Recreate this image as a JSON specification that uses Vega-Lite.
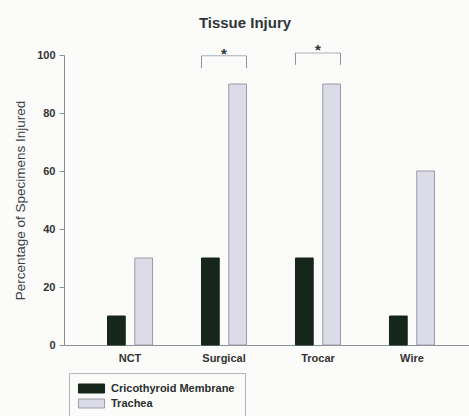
{
  "$schema": "https://vega.github.io/schema/vega-lite/v6.json",
  "width": 414,
  "height": 290,
  "autosize": "none",
  "padding": {"left": 64, "top": 55, "right": 0, "bottom": 71},
  "background": "#fbfcfa",
  "title": {"text": "Tissue Injury", "fontSize": 15, "font": "Liberation Sans", "fontWeight": "bold", "color": "#2e3538", "dx": -26, "offset": 12},
  "config": {"view": {"stroke": null}, "font": "Liberation Sans"},
  "datasets": {
    "bars": [
      {"group": "NCT", "series": "Cricothyroid Membrane", "value": 10},
      {"group": "NCT", "series": "Trachea", "value": 30},
      {"group": "Surgical", "series": "Cricothyroid Membrane", "value": 30},
      {"group": "Surgical", "series": "Trachea", "value": 90},
      {"group": "Trocar", "series": "Cricothyroid Membrane", "value": 30},
      {"group": "Trocar", "series": "Trachea", "value": 90},
      {"group": "Wire", "series": "Cricothyroid Membrane", "value": 10},
      {"group": "Wire", "series": "Trachea", "value": 60}
    ],
    "sig": [
      {"group": "Surgical", "top": 99.7, "bottom": 95.5, "star": 101.4},
      {"group": "Trocar", "top": 100.7, "bottom": 96.6, "star": 102.8}
    ]
  },
  "layer": [
    {
      "data": {"name": "bars"},
      "mark": {"type": "bar", "strokeWidth": 1},
      "encoding": {
        "x": {
          "field": "group", "type": "nominal",
          "scale": {"paddingInner": 0.521, "paddingOuter": 0.463},
          "axis": {"title": null, "ticks": false, "labelAngle": 0, "labelFont": "Liberation Sans", "labelFontWeight": "bold", "labelFontSize": 11, "labelColor": "#333", "labelPadding": 7, "domainColor": "#8a9098"}
        },
        "xOffset": {"field": "series", "type": "nominal", "scale": {"paddingInner": 0.35}},
        "y": {
          "field": "value", "type": "quantitative",
          "title": "Percentage of Specimens Injured",
          "scale": {"domain": [0, 100], "nice": false},
          "axis": {"titleFont": "Liberation Sans", "titleFontWeight": "normal", "titleFontSize": 13.5, "titleColor": "#3a3f42", "titlePadding": 9, "values": [0, 20, 40, 60, 80, 100], "grid": false, "tickSize": 5, "tickColor": "#8a9098", "domainColor": "#8a9098", "labelFont": "Liberation Sans", "labelFontWeight": "bold", "labelFontSize": 11, "labelColor": "#333", "labelPadding": 4}
        },
        "color": {
          "field": "series", "type": "nominal",
          "scale": {"range": ["#17261b", "#dcdce9"]},
          "legend": {"title": null, "orient": "none", "legendX": 5, "legendY": 318, "strokeColor": "#b4b6be", "padding": 10, "labelFont": "Liberation Sans", "labelFontWeight": "bold", "labelFontSize": 11, "labelColor": "#2a2f2c", "symbolType": "M-2.9,-1H2.9V1H-2.9Z", "symbolSize": 81, "symbolOffset": 7, "labelOffset": 14, "rowPadding": 2, "symbolStrokeWidth": 1}
        },
        "stroke": {
          "field": "series", "type": "nominal",
          "scale": {"range": ["#17261b", "#9a9aa8"]},
          "legend": null
        }
      }
    },
    {
      "data": {"name": "sig"},
      "mark": {"type": "rule", "color": "#8a909c", "strokeWidth": 1},
      "encoding": {
        "x": {"field": "group", "type": "nominal", "bandPosition": 0},
        "y": {"field": "bottom", "type": "quantitative", "title": "Percentage of Specimens Injured"},
        "y2": {"field": "top"}
      }
    },
    {
      "data": {"name": "sig"},
      "mark": {"type": "rule", "color": "#8a909c", "strokeWidth": 1},
      "encoding": {
        "x": {"field": "group", "type": "nominal", "bandPosition": 1},
        "y": {"field": "bottom", "type": "quantitative", "title": "Percentage of Specimens Injured"},
        "y2": {"field": "top"}
      }
    },
    {
      "data": {"name": "sig"},
      "mark": {"type": "tick", "color": "#8a909c", "thickness": 1, "size": 45, "orient": "horizontal"},
      "encoding": {
        "x": {"field": "group", "type": "nominal"},
        "y": {"field": "top", "type": "quantitative", "title": "Percentage of Specimens Injured"}
      }
    },
    {
      "data": {"name": "sig"},
      "mark": {"type": "text", "text": "*", "fontSize": 15, "fontWeight": "bold", "color": "#2e3538", "baseline": "middle", "dy": 3},
      "encoding": {
        "x": {"field": "group", "type": "nominal"},
        "y": {"field": "star", "type": "quantitative", "title": "Percentage of Specimens Injured"}
      }
    }
  ]
}
